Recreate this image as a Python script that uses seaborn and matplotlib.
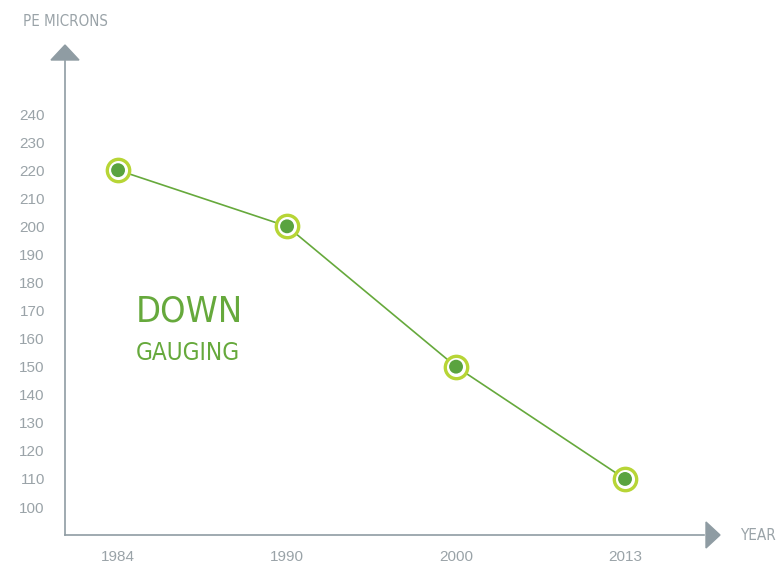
import matplotlib
matplotlib.use("Agg")
import matplotlib.pyplot as plt
from matplotlib.patches import Polygon
import seaborn as sns
import pandas as pd

# data
years = ["1984", "1990", "2000", "2013"]
microns = [220, 200, 150, 110]
y_ticks = [100, 110, 120, 130, 140, 150, 160, 170, 180, 190, 200, 210, 220, 230, 240]

AXIS = "#8f9ca3"
LABEL = "#9aa3a8"
LINE = "#66a93c"
RING = "#b7d536"
DOT = "#5aa33f"

sns.set_theme(style="white")
plt.rcParams["font.family"] = ["Liberation Sans", "DejaVu Sans"]

W, H = 777, 566
fig = plt.figure(figsize=(W / 100, H / 100), dpi=100)
ax = fig.add_axes([65 / W, (H - 535) / H, (720 - 65) / W, (535 - 45) / H])

df = pd.DataFrame({"pos": range(len(years)), "year": years, "microns": microns})

sns.lineplot(data=df, x="pos", y="microns", color=LINE, linewidth=1.2, ax=ax, zorder=2)
sns.scatterplot(data=df, x="pos", y="microns", s=260, color="white", edgecolor=RING,
                linewidth=2.4, ax=ax, zorder=3)
sns.scatterplot(data=df, x="pos", y="microns", s=100, color=DOT, edgecolor="none",
                ax=ax, zorder=4)

ax.set_xlim(-0.314, 3.562)
ax.set_ylim(90.03, 264.6)
ax.set_xticks(range(len(years)))
ax.set_xticklabels(years)
ax.set_yticks(y_ticks)
ax.set_xlabel("")
ax.set_ylabel("")

for s in ["top", "right"]:
    ax.spines[s].set_visible(False)
ax.spines["left"].set_bounds(90.03, 259)
ax.spines["bottom"].set_bounds(-0.314, 3.47)
for s in ["left", "bottom"]:
    ax.spines[s].set_color(AXIS)
    ax.spines[s].set_linewidth(1.2)

ax.tick_params(axis="both", direction="out", length=7.5, width=1, color=AXIS,
               labelcolor=LABEL, labelsize=11)
ax.tick_params(axis="y", pad=7)
ax.tick_params(axis="x", pad=3.5)

# axis arrows (figure coords)
def fx(px):
    return px / W

def fy(py):
    return (H - py) / H

fig.add_artist(Polygon([(fx(51), fy(60)), (fx(79), fy(60)), (fx(65), fy(45))],
                       closed=True, color=AXIS, transform=fig.transFigure))
fig.add_artist(Polygon([(fx(706), fy(522)), (fx(706), fy(548)), (fx(720), fy(535))],
                       closed=True, color=AXIS, transform=fig.transFigure))

thin = ["DejaVu Sans"]
fig.text(fx(23), fy(22), "PE MICRONS", color=LABEL, fontsize=10.8, va="center",
         ha="left", family=thin, fontstretch="condensed", fontweight="light")
fig.text(fx(740), fy(535), "YEAR", color=LABEL, fontsize=11, va="center",
         ha="left", family=thin, fontstretch="condensed", fontweight="light")

fig.text(fx(136), fy(311), "DOWN", color=LINE, fontsize=26, va="center", ha="left",
         family=thin, fontstretch="condensed", fontweight="light")
fig.text(fx(136), fy(353), "GAUGING", color=LINE, fontsize=17.5, va="center", ha="left",
         family=thin, fontstretch="condensed", fontweight="light")

fig.savefig("out.png", dpi=100)
